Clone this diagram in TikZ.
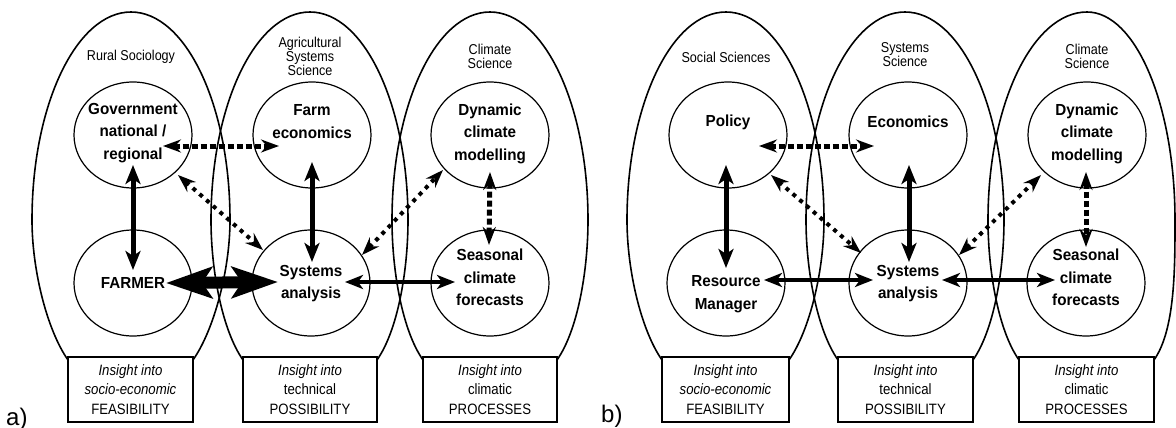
\documentclass[tikz,border=0pt]{standalone}
\usepackage{fontspec}
\setmainfont{Liberation Sans}
\newfontfamily\nfont[FakeStretch=0.88]{Liberation Sans}
\newfontfamily\bfont[FakeStretch=0.95]{Liberation Sans}
\usetikzlibrary{arrows.meta,shapes.geometric,calc}

\newcommand{\eggshape}[5]{%
  \draw[eggline] (#4,360) .. controls (#4-21,330) and (#1-#2,270) .. (#1-#2,220)
    arc[start angle=180, end angle=270, x radius=#2, y radius=208]
    arc[start angle=270, end angle=360, x radius=#3, y radius=208]
    .. controls (#1+#3,270) and (#5+21,330) .. (#5,360);}

\tikzset{
  tipA/.tip={Stealth[length=19pt,width=15pt,inset=5pt]},
  tipB/.tip={Stealth[length=18pt,width=13pt,inset=6pt]},
  tipC/.tip={Stealth[length=46pt,width=31pt,inset=10pt]},
  tipD/.tip={Stealth[length=18pt,width=14pt,inset=5pt]},
  eggline/.style={line width=1.6pt},
  circ/.style={ellipse, draw, line width=1.2pt, minimum width=118pt, minimum height=106pt, inner sep=0pt},
  ctext/.style={align=center, inner sep=0pt, font=\bfont\bfseries\fontsize{16}{22.5}\selectfont},
  dtext/.style={align=center, inner sep=0pt, font=\nfont\fontsize{14.3}{14}\selectfont},
  ibox/.style={draw, fill=white, line width=1.1pt, minimum height=65pt, inner sep=0pt, align=center, font=\nfont\fontsize{15}{19.5}\selectfont},
  vthick/.style={line width=5pt, arrows={tipA-tipA}},
  hsolid/.style={line width=3.5pt, arrows={tipD-tipD}},
  dashline/.style={line width=5pt, dash pattern=on 6pt off 3pt, arrows={tipB-tipB}},
  dotline/.style={line width=4pt, dash pattern=on 4pt off 5pt, arrows={tipB-tipB}},
  hugearrow/.style={line width=12pt, arrows={tipC-tipC}},
  plabel/.style={inner sep=0pt, anchor=base west, font=\fontsize{24}{24}\selectfont},
}

\begin{document}
\begin{tikzpicture}[x=1pt,y=-1pt]
\useasboundingbox (0,0) rectangle (1176,428);
\clip (0,0) rectangle (1176,428);

% discipline outlines
\eggshape{131}{99}{99}{68}{193}
\eggshape{310}{99}{98}{243}{377}
\eggshape{490}{98}{98}{423}{557}
\eggshape{726}{99}{98}{662}{789}
\eggshape{905}{99}{99}{838}{973}
\eggshape{1087}{99}{88}{1019}{1154}

% insight boxes
\node[ibox, minimum width=125pt] (ba1) at (130.5,389.5) {\itshape Insight into\\\itshape socio-economic\\FEASIBILITY};
\node[ibox, minimum width=134pt] (ba2) at (310,389.5) {\itshape Insight into\\technical\\POSSIBILITY};
\node[ibox, minimum width=134pt] (ba3) at (490,389.5) {\itshape Insight into\\climatic\\PROCESSES};
\node[ibox, minimum width=127pt] (bb1) at (725.5,389.5) {\itshape Insight into\\\itshape socio-economic\\FEASIBILITY};
\node[ibox, minimum width=135pt] (bb2) at (905.5,389.5) {\itshape Insight into\\technical\\POSSIBILITY};
\node[ibox, minimum width=135pt] (bb3) at (1086.5,389.5) {\itshape Insight into\\climatic\\PROCESSES};

% discipline labels
\node[dtext] (la1) at (131,57) {Rural Sociology};
\node[dtext] (la2) at (310,56) {Agricultural\\Systems\\Science};
\node[dtext] (la3) at (490,56) {Climate\\Science};
\node[dtext] (lb1) at (726,57) {Social Sciences};
\node[dtext] (lb2) at (905,55) {Systems\\Science};
\node[dtext] (lb3) at (1087,56) {Climate\\Science};

% circles panel a
\node[circ] (gov) at (133,135) {};
\node[circ] (farm) at (312,135) {};
\node[circ] (dyn) at (490,135) {};
\node[circ] (farmer) at (133,283) {};
\node[circ] (sysa) at (311,283) {};
\node[circ] (seas) at (490,283) {};
% circles panel b
\node[circ] (pol) at (728,135) {};
\node[circ] (eco) at (908,135) {};
\node[circ] (dynb) at (1087,135) {};
\node[circ] (res) at (726,283) {};
\node[circ] (sysb) at (908,283) {};
\node[circ] (seasb) at (1086,283) {};

% circle texts
\node[ctext] (govt) at (133,133) {Government\\national /\\regional};
\node[ctext] (farmt) at (312,121.5) {Farm\\economics};
\node[ctext] (dynt) at (490,133.5) {Dynamic\\climate\\modelling};
\node[ctext] (farmert) at (133,283) {FARMER};
\node[ctext] (sysat) at (311,283.5) {Systems\\analysis};
\node[ctext] (seast) at (490,277.5) {Seasonal\\climate\\forecasts};
\node[ctext] (polt) at (728,122) {Policy};
\node[ctext] (ecot) at (908,122) {Economics};
\node[ctext] (dynbt) at (1087,133.5) {Dynamic\\climate\\modelling};
\node[ctext] (rest) at (726,294) {Resource\\Manager};
\node[ctext] (sysbt) at (908,283.5) {Systems\\analysis};
\node[ctext] (seasbt) at (1086,277.5) {Seasonal\\climate\\forecasts};

% connectors panel a
\draw[vthick] ($(gov)+(0,30)$) -- ($(farmer)+(0,-13)$);
\draw[vthick] ($(farm)+(0,27)$) -- ($(sysa)+(1,-21)$);
\draw[dashline] ($(gov)+(30,11)$) -- ($(farm)+(-33,11)$);
\draw[dotline] ($(gov)+(45,40)$) -- ($(sysa)+(-48,-33)$);
\draw[dotline] ($(sysa)+(51,-28)$) -- ($(dyn)+(-47,35)$);
\draw[dashline] ($(dyn)+(0,37)$) -- ($(seas)+(-1,-38)$);
\draw[hugearrow] ($(farmer)+(33,0)$) -- ($(sysa)+(-33,-1)$);
\draw[hsolid] ($(sysa)+(34,-1)$) -- ($(seas)+(-35,-1)$);

% connectors panel b
\draw[vthick] ($(pol)+(-2,30)$) -- ($(res)+(0,-15)$);
\draw[vthick] ($(eco)+(1,30)$) -- ($(sysb)+(1,-21)$);
\draw[dashline] ($(pol)+(31,11)$) -- ($(eco)+(-34,11)$);
\draw[dotline] ($(pol)+(43,40)$) -- ($(sysb)+(-47,-30)$);
\draw[dotline] ($(sysb)+(51,-28)$) -- ($(dynb)+(-46,40)$);
\draw[dashline] ($(dynb)+(-1,37)$) -- ($(seasb)+(0,-36)$);
\draw[hsolid] ($(res)+(38,-3)$) -- ($(sysb)+(-35,-3)$);
\draw[hsolid] ($(sysb)+(34,-3)$) -- ($(seasb)+(-31,-3)$);

% panel labels
\node[plabel] (pa) at (6,425) {a)};
\node[plabel] (pb) at (601,422) {b)};
\end{tikzpicture}
\end{document}
